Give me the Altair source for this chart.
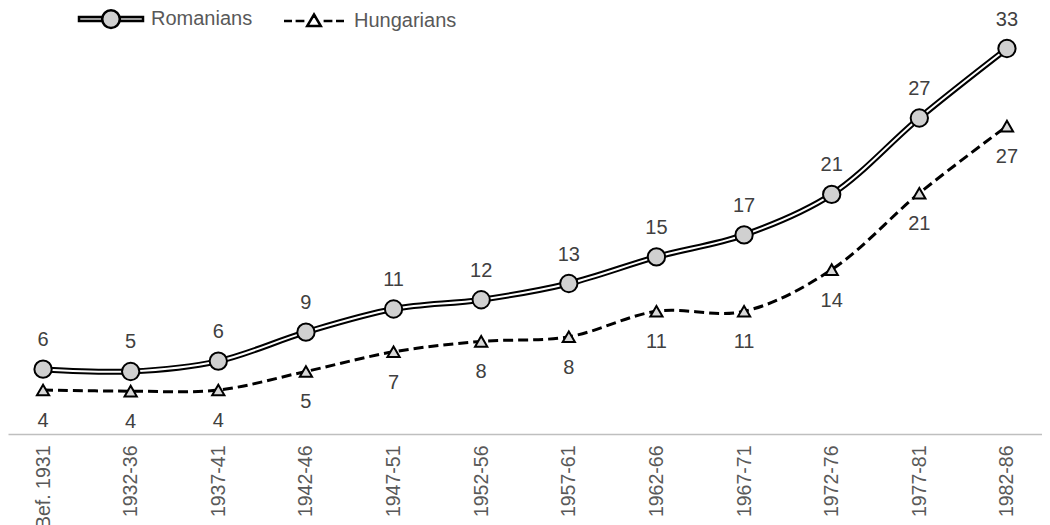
import altair as alt
import pandas as pd

periods = ["Bef. 1931", "1932-36", "1937-41", "1942-46", "1947-51", "1952-56",
           "1957-61", "1962-66", "1967-71", "1972-76", "1977-81", "1982-86"]
romanians = [5.6, 5.4, 6.3, 8.8, 10.8, 11.6, 13.0, 15.3, 17.2, 20.7, 27.3, 33.3]
hungarians = [3.8, 3.7, 3.8, 5.4, 7.1, 8.0, 8.4, 10.6, 10.6, 14.2, 20.8, 26.6]
series_names = ["Romanians", "Hungarians"]

df = pd.DataFrame({
    "period": periods * 2,
    "value": romanians + hungarians,
    "series": ["Romanians"] * len(periods) + ["Hungarians"] * len(periods),
})

FONT = "Liberation Sans"

x_enc = alt.X("period:N", sort=periods,
              scale=alt.Scale(type="point", padding=0.4),
              axis=alt.Axis(title=None, labelAngle=-90, ticks=False, grid=False,
                            domainColor="#bfbfbf", domainWidth=1.5,
                            labelFont=FONT, labelFontSize=19.5, labelColor="#595959",
                            labelPadding=11, labelOverlap=False, labelLimit=0))
y_enc = alt.Y("value:Q", scale=alt.Scale(domain=[0, 36.8], nice=False, zero=True), axis=None)

base = alt.Chart(df).encode(x=x_enc, y=y_enc)
rom = base.transform_filter(alt.datum.series == "Romanians")
hun = base.transform_filter(alt.datum.series == "Hungarians")

rom_outer = rom.mark_line(interpolate="catmull-rom", color="black", strokeWidth=6)
rom_inner = rom.mark_line(interpolate="catmull-rom", color="white", strokeWidth=2)
rom_pts = rom.mark_point(shape="circle", filled=True, fill="#d0d0d0", stroke="black",
                         strokeWidth=2, size=300, opacity=1)
rom_txt = rom.mark_text(font=FONT, fontSize=20, color="#404040", dy=-29).encode(
    text=alt.Text("value:Q", format=".0f"))

hun_line = hun.mark_line(interpolate="catmull-rom", color="black", strokeWidth=3,
                         strokeDash=[10, 5])
hun_pts = hun.mark_point(shape="triangle-up", filled=True, fill="#d9d9d9", stroke="black",
                         strokeWidth=2, size=150, opacity=1)
hun_txt = hun.mark_text(font=FONT, fontSize=20, color="#404040", dy=31).encode(
    text=alt.Text("value:Q", format=".0f"))

rom_sym = ("M-4,-0.25H-1.1V0.25H-4Z M1.1,-0.25H4V0.25H1.1Z "
           "M-1.1,0A1.1,1.1 0 1,0 1.1,0A1.1,1.1 0 1,0 -1.1,0Z")
hun_sym = ("M-3.75,0H-2.75 M-2.3,0H-1.2 M1.2,0H2.3 M2.75,0H3.75 "
           "M0,-0.8L0.85,0.65L-0.85,0.65Z")

leg = alt.Legend(title=None, orient="none", direction="horizontal",
                 legendX=93, legendY=1, columnPadding=26,
                 labelOffset=30, labelFont=FONT, labelFontSize=20,
                 labelColor="#595959", symbolStrokeWidth=2.5, symbolSize=256,
                 labelLimit=0)

legend_layer = alt.Chart(df).transform_filter("false").mark_point(
    filled=True, strokeWidth=2.5, size=256, opacity=1
).encode(
    x=alt.X("period:N", sort=periods),
    y="value:Q",
    shape=alt.Shape("series:N", scale=alt.Scale(domain=series_names, range=[rom_sym, hun_sym]),
                    legend=leg),
    fill=alt.Fill("series:N", scale=alt.Scale(domain=series_names, range=["#d0d0d0", "white"]),
                  legend=leg),
    stroke=alt.Stroke("series:N", scale=alt.Scale(domain=series_names, range=["black", "black"]),
                      legend=leg),
)

chart = alt.layer(
    hun_line, hun_pts, hun_txt, rom_outer, rom_inner, rom_pts, rom_txt, legend_layer
).properties(
    width=1034, height=426,
    autosize=alt.AutoSizeParams(type="none"),
    padding={"left": 0, "top": 0, "right": 0, "bottom": 91},
).configure_view(strokeWidth=0)

chart.save("out.html", embed_options={"renderer": "svg", "actions": False})
